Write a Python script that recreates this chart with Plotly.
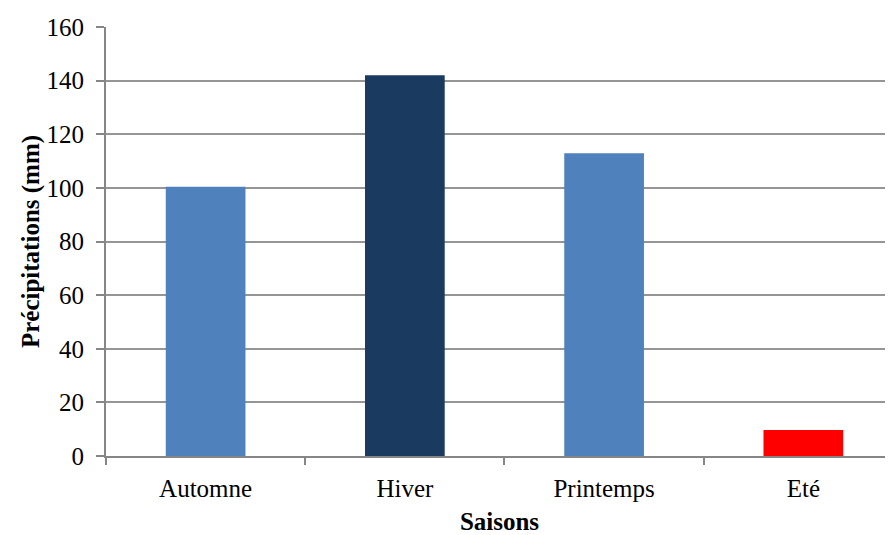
import plotly.graph_objects as go

saisons = ["Automne", "Hiver", "Printemps", "Eté"]
precip = [100.4, 142.0, 112.9, 9.7]
couleurs = ["#4F81BD", "#1A3A60", "#4F81BD", "#FF0000"]

fig = go.Figure(
    go.Bar(
        x=saisons,
        y=precip,
        marker_color=couleurs,
        marker_line_width=0,
        width=0.4,
    )
)

# page body has an 8px margin, so shift everything up/left by 8
fig.update_layout(
    width=885,
    height=527,
    margin=dict(l=98, r=0, t=19, b=79),
    plot_bgcolor="white",
    paper_bgcolor="white",
    font=dict(family="Liberation Serif", size=24, color="black"),
    showlegend=False,
)

fig.update_xaxes(
    range=[-0.5, 3.45],
    tickson="boundaries",
    ticks="outside",
    ticklen=7,
    tickcolor="#868686",
    tickwidth=2,
    tickfont=dict(size=25),
    ticklabelstandoff=9,
    showline=True,
    linecolor="#868686",
    linewidth=2,
    showgrid=False,
    title=dict(text="<b>Saisons</b>", font=dict(size=25), standoff=15),
)

fig.update_yaxes(
    range=[0, 160],
    dtick=20,
    ticks="outside",
    ticklen=8,
    tickcolor="#868686",
    tickwidth=2,
    tickfont=dict(size=25),
    ticklabelstandoff=7,
    showline=True,
    linecolor="#868686",
    linewidth=2,
    gridcolor="#959595",
    gridwidth=2,
    zeroline=False,
    title=dict(text="<b>Précipitations (mm)</b>", font=dict(size=25), standoff=0),
)

fig.write_html("out.html")
